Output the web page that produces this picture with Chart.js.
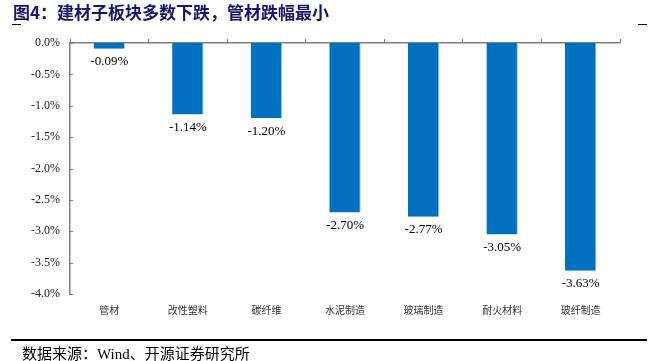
<!DOCTYPE html>
<html>
<head>
<meta charset="utf-8">
<script src="https://cdn.jsdelivr.net/npm/chart.js@4/dist/chart.umd.min.js"></script>
<style>
  body { margin: 0; background: #fff; }
  #wrap { position: relative; width: 659px; height: 361px; overflow: hidden; }
  #title {
    position: absolute; left: 13px; top: 2px;
    font: bold 17px "Noto Sans CJK SC", sans-serif; color: #16166e;
    white-space: nowrap; line-height: 20px;
  }
  .dash { position: absolute; top: 24px; width: 9px; height: 1px; background: #000; }
  #srcline { position: absolute; left: 11px; top: 339px; width: 636px; height: 1.5px; background: #000; }
  #source {
    position: absolute; left: 22px; top: 342px;
    font: 15px "Liberation Serif", "Noto Sans CJK SC", serif; color: #000; white-space: nowrap;
  }
  canvas { position: absolute; left: 0; top: 0; }
</style>
</head>
<body>
<div id="wrap">
  <canvas id="barChart" width="659" height="361"></canvas>
  <div id="title">图4：建材子板块多数下跌，管材跌幅最小</div>
  <div class="dash" style="left:12px"></div>
  <div class="dash" style="left:638px"></div>
  <div id="srcline"></div>
  <div id="source">数据来源：Wind、开源证券研究所</div>
</div>
<script>
// 子板块及涨跌幅(%)
const categories = ["管材", "改性塑料", "碳纤维", "水泥制造", "玻璃制造", "耐火材料", "玻纤制造"];
const changes = [-0.09, -1.14, -1.2, -2.7, -2.77, -3.05, -3.63];
const yMin = -4.0;
const yMax = 0.0;
const yStep = 0.5;

const axisGray = "#7f7f7f";

// 柱子下方数值标签 + y轴内侧刻度
const extras = {
  id: "extras",
  afterDatasetsDraw(chart) {
    const ctx = chart.ctx;
    ctx.save();
    ctx.font = '13px "Liberation Serif", serif';
    ctx.fillStyle = "#000";
    ctx.textAlign = "center";
    ctx.textBaseline = "middle";
    chart.getDatasetMeta(0).data.forEach((bar, i) => {
      ctx.fillText(changes[i].toFixed(2) + "%", bar.x, bar.y + 13);
    });
    const y = chart.scales.y;
    ctx.strokeStyle = axisGray;
    ctx.lineWidth = 1;
    y.ticks.forEach((t) => {
      const py = Math.round(y.getPixelForValue(t.value)) + 0.5;
      ctx.beginPath();
      ctx.moveTo(chart.chartArea.left, py);
      ctx.lineTo(chart.chartArea.left + 3, py);
      ctx.stroke();
    });
    ctx.restore();
  },
};

const ctx = document.getElementById("barChart").getContext("2d");
new Chart(ctx, {
  type: "bar",
  data: {
    labels: categories,
    datasets: [
      {
        data: changes,
        backgroundColor: "#0070c0",
        borderColor: "#8fc3ec",
        borderWidth: { right: 1 },
        borderSkipped: false,
        barPercentage: 0.4,
        categoryPercentage: 1.0,
        xAxisID: "x",
      },
    ],
  },
  options: {
    responsive: false,
    animation: false,
    layout: { padding: { top: 0, right: 39, left: 0, bottom: 0 } },
    plugins: { legend: { display: false }, tooltip: { enabled: false } },
    scales: {
      x: {
        position: "bottom",
        grid: { display: false, drawTicks: false },
        border: { display: false },
        ticks: {
          padding: 10,
          color: "#333",
          font: { family: '"Noto Sans CJK SC", sans-serif', size: 10 },
          maxRotation: 0,
        },
        afterFit(scale) { scale.height = 67; },
      },
      xTop: {
        type: "category",
        labels: categories,
        position: "top",
        offset: true,
        grid: { offset: true, drawOnChartArea: false, tickLength: 4, color: axisGray, lineWidth: 1 },
        border: { display: true, color: axisGray, width: 1.5 },
        ticks: { display: false },
        afterFit(scale) { scale.height = 43; },
      },
      y: {
        min: yMin,
        max: yMax,
        grid: { display: false, drawTicks: false },
        border: { display: true, color: axisGray, width: 1.5 },
        ticks: {
          stepSize: yStep,
          padding: 10,
          color: "#222",
          font: { family: '"Liberation Serif", serif', size: 12 },
          callback: (v) => v.toFixed(1) + "%",
        },
        afterFit(scale) { scale.width = 70; },
      },
    },
  },
  plugins: [extras],
});
</script>
</body>
</html>
